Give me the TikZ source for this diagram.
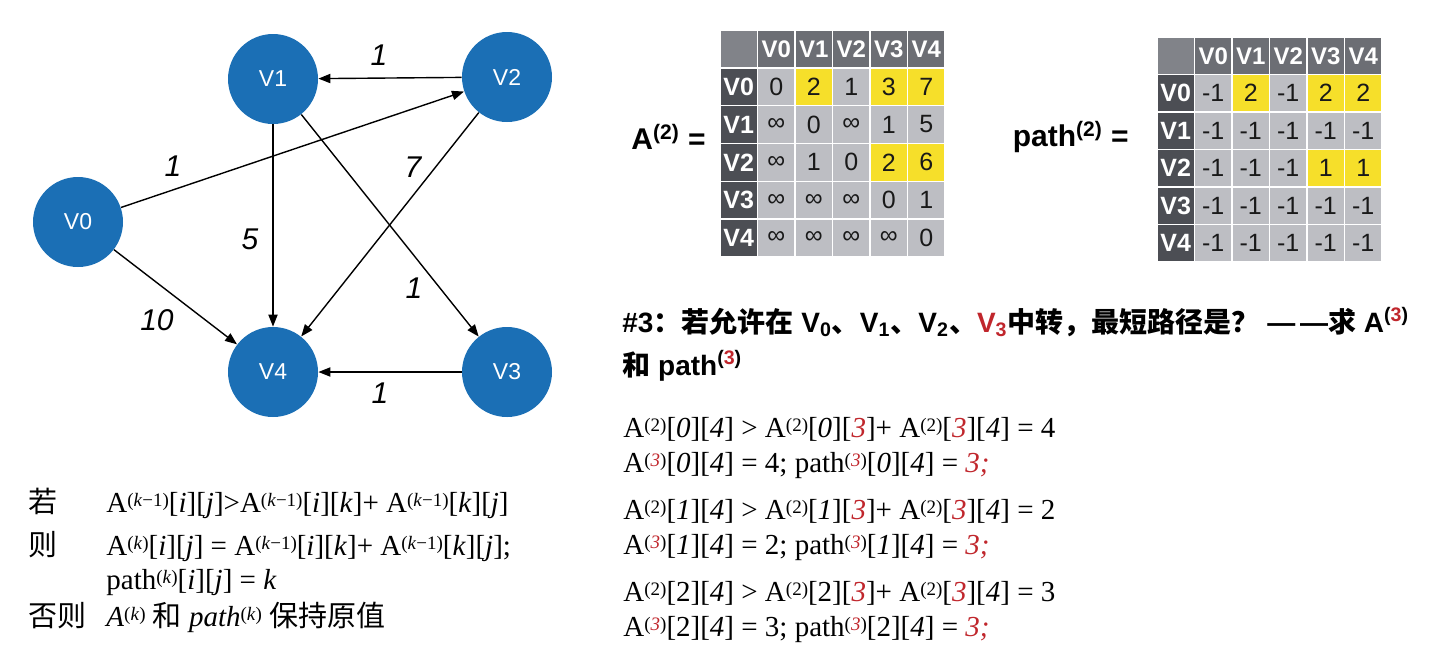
\documentclass[tikz,border=0pt]{standalone}
\usepackage{fontspec}
\setmainfont{Liberation Serif}
\setsansfont{Liberation Sans}
\newfontfamily\cjk{Noto Sans CJK SC}
\usetikzlibrary{arrows.meta}
\definecolor{nodeblue}{HTML}{1B6FB5}
\definecolor{cornergray}{HTML}{818389}
\definecolor{hdrgray}{HTML}{6C6E74}
\definecolor{rowgray}{HTML}{4C4E54}
\definecolor{datagray}{HTML}{BDBEC3}
\definecolor{yelcol}{HTML}{F6DF2A}
\definecolor{hred}{HTML}{C0262C}
\newcommand\supx[1]{\raisebox{3pt}{\fontsize{9.5}{10}\selectfont(#1)}}
\newcommand\rit[1]{\textcolor{hred}{\textit{#1}}}
\newcommand\itx[1]{\textit{#1}}
\tikzset{
  vtx/.style={circle, fill=nodeblue, minimum size=45pt, inner sep=0pt, text=white,
    font=\sffamily\fontsize{11.5}{13}\selectfont},
  arr/.style={-{Triangle[length=6pt,width=4.6pt]}, line width=0.7pt, black},
  wlab/.style={font=\sffamily\itshape\fontsize{15}{18}\selectfont, inner sep=0pt},
  cellbox/.style={minimum width=18.75pt, minimum height=18.9pt, inner sep=0pt, draw=white, line width=0.7pt,
    font=\sffamily\fontsize{12.5}{14}\selectfont},
  hdrcell/.style={cellbox, fill=hdrgray, text=white, font=\sffamily\bfseries\fontsize{12}{14}\selectfont},
  rowcell/.style={cellbox, fill=rowgray, text=white, font=\sffamily\bfseries\fontsize{12.5}{14}\selectfont},
  datacell/.style={cellbox, fill=datagray, text=black!90},
  yelcell/.style={cellbox, fill=yelcol, text=black!90},
  frm/.style={anchor=base west, inner sep=0pt, font=\fontsize{14.5}{17}\selectfont},
  hd/.style={anchor=base west, inner sep=0pt, font=\sffamily\bfseries\fontsize{14}{17}\selectfont},
}
\begin{document}
\begin{tikzpicture}[x=0.5pt,y=-0.5pt]
\useasboundingbox (0,0) rectangle (1441,650);
% graph
\node[vtx] (v0) at (78,222) {V0};
\node[vtx] (v1) at (273,79) {V1};
\node[vtx] (v2) at (507,77) {V2};
\node[vtx] (v3) at (507,372) {V3};
\node[vtx] (v4) at (273,372) {V4};
\draw[arr] (v2) -- (v1);
\draw[arr] (v0) -- (v2);
\draw[arr] (v1) -- (v4);
\draw[arr] (v1) -- (v3);
\draw[arr] (v2) -- (v4);
\draw[arr] (v0) -- (v4);
\draw[arr] (v3) -- (v4);
\node[wlab] (w21) at (379,55) {1};
\node[wlab] (w02) at (173,166) {1};
\node[wlab] (w14) at (250,239) {5};
\node[wlab] (w24) at (413,167) {7};
\node[wlab] (w13) at (414,288) {1};
\node[wlab] (w04) at (157,320) {10};
\node[wlab] (w34) at (380,393) {1};
% matrix A
\node[font=\sffamily\bfseries\fontsize{15}{18}\selectfont, anchor=east, inner sep=0pt] (alab) at (706,137) {A\textsuperscript{(2)} =};
\node[cellbox, fill=cornergray] (A-0-0) at (738.75,48.9) {};
\foreach \c/\t in {1/V0,2/V1,3/V2,4/V3,5/V4}{
  \node[hdrcell] (A-0-\c) at ({720+(\c+0.5)*37.5},48.9) {\t};
  \node[rowcell] (A-\c-0) at (738.75,{30+(\c+0.5)*37.8}) {\t};
}
\foreach \r/\row in {1/{0/datacell,2/yelcell,1/datacell,3/yelcell,7/yelcell},
                     2/{∞/datacell,0/datacell,∞/datacell,1/datacell,5/datacell},
                     3/{∞/datacell,1/datacell,0/datacell,2/yelcell,6/yelcell},
                     4/{∞/datacell,∞/datacell,∞/datacell,0/datacell,1/datacell},
                     5/{∞/datacell,∞/datacell,∞/datacell,∞/datacell,0/datacell}}{
  \foreach [count=\c] \v/\s in \row {
    \node[\s] (A-\r-\c) at ({720+(\c+0.5)*37.5},{30+(\r+0.5)*37.8}) {\v};
  }
}
% matrix path
\node[font=\sffamily\bfseries\fontsize{15}{18}\selectfont, anchor=east, inner sep=0pt] (plab) at (1129,137) {path\textsuperscript{(2)} =};
\node[cellbox, fill=cornergray] (P-0-0) at (1175.75,55.75) {};
\foreach \c/\t in {1/V0,2/V1,3/V2,4/V3,5/V4}{
  \node[hdrcell] (P-0-\c) at ({1157+(\c+0.5)*37.5},55.75) {\t};
  \node[rowcell] (P-\c-0) at (1175.75,{37+(\c+0.5)*37.5}) {\t};
}
\foreach \r/\row in {1/{-1/datacell,2/yelcell,-1/datacell,2/yelcell,2/yelcell},
                     2/{-1/datacell,-1/datacell,-1/datacell,-1/datacell,-1/datacell},
                     3/{-1/datacell,-1/datacell,-1/datacell,1/yelcell,1/yelcell},
                     4/{-1/datacell,-1/datacell,-1/datacell,-1/datacell,-1/datacell},
                     5/{-1/datacell,-1/datacell,-1/datacell,-1/datacell,-1/datacell}}{
  \foreach [count=\c] \v/\s in \row {
    \node[\s, minimum height=18.75pt] (P-\r-\c) at ({1157+(\c+0.5)*37.5},{37+(\r+0.5)*37.5}) {\v};
  }
}
% heading
\node[hd] (h1) at (622,332) {\#3{\cjk\bfseries ：若允许在} V\textsubscript{0}{\cjk\bfseries 、}V\textsubscript{1}{\cjk\bfseries 、}V\textsubscript{2}{\cjk\bfseries 、}\textcolor{hred}{V\textsubscript{3}}{\cjk\bfseries 中转，最短路径是？} —\,—{\cjk\bfseries 求} A\textsuperscript{(\textcolor{hred}{3})}};
\node[hd] (h2) at (622,375) {{\cjk\bfseries 和} path\textsuperscript{(\textcolor{hred}{3})}};
% right formulas
\node[frm] (f1) at (623,437) {A\supx{2}[\itx{0}][\itx{4}] > A\supx{2}[\itx{0}][\rit{3}]+ A\supx{2}[\rit{3}][\itx{4}] = 4};
\node[frm] (f2) at (623,472) {A\supx{\rit{3}}[\itx{0}][\itx{4}] = 4; path\supx{\rit{3}}[\itx{0}][\itx{4}] = \rit{3;}};
\node[frm] (f3) at (623,519) {A\supx{2}[\itx{1}][\itx{4}] > A\supx{2}[\itx{1}][\rit{3}]+ A\supx{2}[\rit{3}][\itx{4}] = 2};
\node[frm] (f4) at (623,554) {A\supx{\rit{3}}[\itx{1}][\itx{4}] = 2; path\supx{\rit{3}}[\itx{1}][\itx{4}] = \rit{3;}};
\node[frm] (f5) at (623,601) {A\supx{2}[2][\itx{4}] > A\supx{2}[2][\rit{3}]+ A\supx{2}[\rit{3}][\itx{4}] = 3};
\node[frm] (f6) at (623,636) {A\supx{\rit{3}}[2][\itx{4}] = 3; path\supx{\rit{3}}[2][\itx{4}] = \rit{3;}};
% bottom-left rule
\node[frm] (c1) at (28,512) {\cjk 若};
\node[frm] (c2) at (28,555) {\cjk 则};
\node[frm] (c3) at (28,626) {\cjk 否则};
\node[frm] (g1) at (106,512) {A\supx{\itx{k}−1}[\itx{i}][\itx{j}]>A\supx{\itx{k}−1}[\itx{i}][\itx{k}]+ A\supx{\itx{k}−1}[\itx{k}][\itx{j}]};
\node[frm] (g2) at (106,555) {A\supx{\itx{k}}[\itx{i}][\itx{j}] = A\supx{\itx{k}−1}[\itx{i}][\itx{k}]+ A\supx{\itx{k}−1}[\itx{k}][\itx{j}];};
\node[frm] (g3) at (106,589) {path\supx{\itx{k}}[\itx{i}][\itx{j}] = \itx{k}};
\node[frm] (g4) at (106,626) {\itx{A}\supx{\itx{k}} {\cjk 和} \itx{path}\supx{\itx{k}} {\cjk 保持原值}};
\end{tikzpicture}
\end{document}
